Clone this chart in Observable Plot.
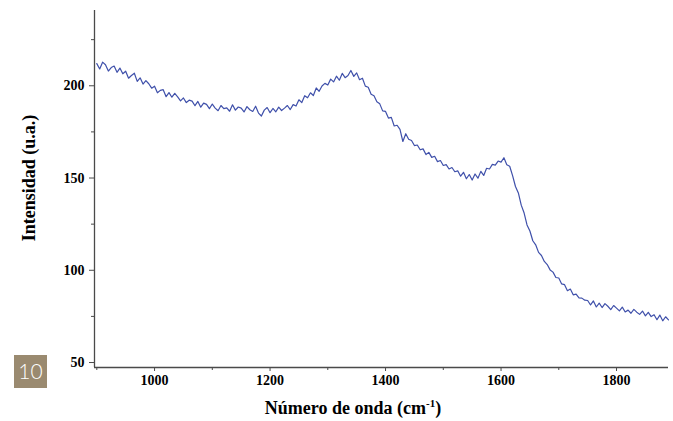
<!DOCTYPE html>
<html><head><meta charset="utf-8">
<script src="https://cdn.jsdelivr.net/npm/d3@7"></script>
<script src="https://cdn.jsdelivr.net/npm/@observablehq/plot@0.6"></script>
<style>body{margin:0;background:#fff}</style>
</head><body><div id="chart"></div>
<script>
const wavenumbers = d3.range(900, 1891, 5);
const intensity = [
  212.0, 209.1, 212.8, 211.4, 208.0, 209.9, 210.7, 207.3, 209.6, 206.5,
  207.9, 204.1, 205.6, 206.8, 202.4, 204.3, 200.9, 202.8, 201.1, 198.7,
  199.8, 196.2, 197.5, 197.9, 194.1, 196.3, 193.8, 195.9, 194.0, 191.8,
  193.4, 190.9, 192.2, 191.7, 189.2, 191.5, 188.4, 190.6, 189.9, 187.6,
  190.1, 187.9, 186.5, 189.3, 187.6, 188.0, 186.2, 189.7, 186.8, 188.5,
  187.9, 185.8, 188.7, 187.0, 186.1, 188.9, 185.2, 183.6, 186.8, 188.2,
  185.4, 187.7, 185.9, 188.4, 186.6, 187.9, 189.3, 187.1, 189.8, 189.0,
  192.4, 190.9, 194.6, 193.5, 196.2, 194.7, 198.8, 197.0, 199.9, 201.3,
  200.4, 203.6, 202.1, 205.2, 203.0, 206.7, 204.4, 205.6, 208.3, 205.1,
  207.0, 203.3, 204.1, 199.8, 199.2, 195.4, 194.6, 191.3, 190.2, 186.4,
  186.1, 182.5, 182.9, 178.2, 178.6, 176.4, 169.8, 174.0, 171.0, 170.3,
  167.6, 167.9, 165.3, 165.8, 162.7, 163.9, 161.2, 161.8, 158.9, 159.5,
  156.8, 157.3, 154.9, 155.7, 153.4, 153.9, 151.0, 153.1, 149.6, 151.9,
  148.9, 152.2, 149.9, 153.6, 151.4, 155.3, 154.9, 157.4, 157.0, 159.2,
  158.6, 161.0, 157.2, 156.4, 151.3, 145.4, 141.9, 135.3, 131.0, 124.6,
  121.3, 116.0, 113.8, 109.7, 108.0, 104.8, 103.1, 100.2, 99.0, 96.1,
  95.8, 92.6, 92.2, 88.9, 89.8, 86.7, 87.1, 85.0, 84.9, 83.8,
  83.6, 81.2, 83.4, 80.1, 82.2, 79.8, 81.9, 80.5, 78.7, 80.9,
  79.5, 78.0, 80.0, 77.4, 78.4, 76.7, 78.8, 77.3, 76.1, 77.9,
  75.3, 77.2, 74.9, 75.9, 73.2, 75.7, 72.6, 74.8, 73.1
];
const xMajorTicks = [1000, 1200, 1400, 1600, 1800];
const xMinorTicks = [900, 1100, 1300, 1500, 1700];
const yMajorTicks = [50, 100, 150, 200];
const yMinorTicks = [75, 125, 175, 225];
const xLabel = "Número de onda (cm";
const xLabelSup = "-1";
const yLabel = "Intensidad (u.a.)";
const figureNumber = "10";

const data = wavenumbers.map((w, i) => ({w, v: intensity[i]})).filter(d => d.v !== undefined);

const axisColor = "#4a4a4a";
const chart = Plot.plot({
  width: 673, height: 421,
  marginLeft: 94, marginRight: 5, marginTop: 10, marginBottom: 54,
  style: {fontFamily: "'Liberation Serif', 'Times New Roman', serif", fontSize: "14px", background: "#fff", color: "#000"},
  x: {domain: [896, 1890]},
  y: {domain: [47.3, 240.8]},
  marks: [
    Plot.ruleX([896], {stroke: axisColor, strokeWidth: 1.3}),
    Plot.ruleY([47.3], {stroke: axisColor, strokeWidth: 1.3}),
    Plot.axisX({ticks: xMajorTicks, tickSize: 4, tickPadding: 4, tickFormat: d => String(d), fontWeight: "bold", fontSize: 14, fill: "#000", stroke: axisColor, label: null}),
    Plot.axisX({ticks: xMinorTicks, tickSize: 3, tickFormat: () => "", stroke: axisColor, label: null}),
    Plot.axisY({ticks: yMajorTicks, tickSize: 5, tickPadding: 5, tickFormat: d => String(d), fontWeight: "bold", fontSize: 14, fill: "#000", stroke: axisColor, label: null}),
    Plot.axisY({ticks: yMinorTicks, tickSize: 3, tickFormat: () => "", stroke: axisColor, label: null}),
    Plot.line(data, {x: "w", y: "v", stroke: "#3f50aa", strokeWidth: 1.2})
  ]
});

const svg = d3.select(chart);
const xl = svg.append("text")
  .attr("x", 353).attr("y", 414)
  .attr("text-anchor", "middle")
  .attr("font-family", "'Liberation Serif', serif")
  .attr("font-weight", "bold").attr("font-size", 18).attr("fill", "#000");
xl.append("tspan").text(xLabel);
xl.append("tspan").attr("font-size", 11).attr("dy", -7).text(xLabelSup);
xl.append("tspan").attr("dy", 7).text(")");

svg.append("text")
  .attr("transform", "translate(35,178) rotate(-90)")
  .attr("text-anchor", "middle")
  .attr("font-family", "'Liberation Serif', serif")
  .attr("font-weight", "bold").attr("font-size", 18).attr("fill", "#000")
  .text(yLabel);

svg.append("rect").attr("x", 14).attr("y", 355).attr("width", 33).attr("height", 33).attr("fill", "#9a8a70");
svg.append("text").attr("x", 30.5).attr("y", 379).attr("text-anchor", "middle")
  .attr("font-family", "Lato, sans-serif").attr("font-weight", 300).attr("font-size", 21).attr("fill", "#fff")
  .text(figureNumber);

document.getElementById("chart").appendChild(chart);
</script>
</body></html>
